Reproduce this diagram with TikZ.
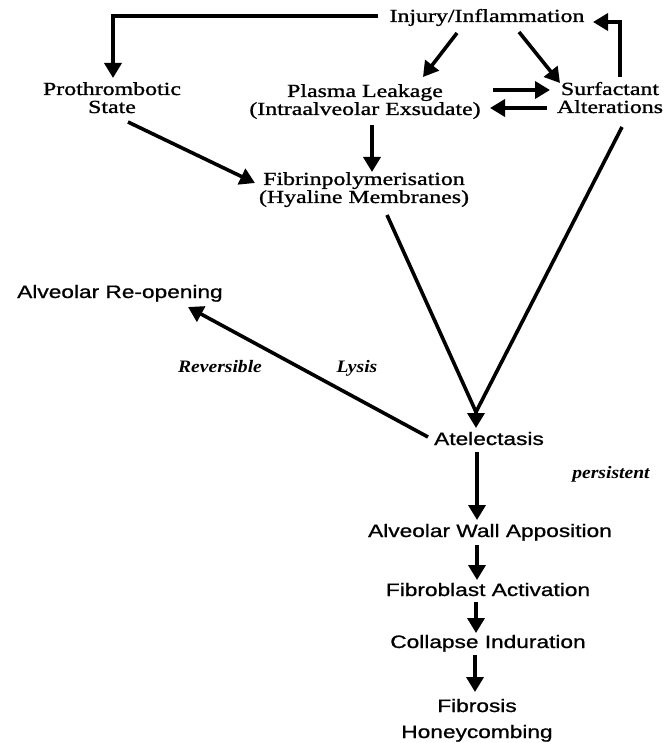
\documentclass[tikz,border=0pt]{standalone}
\usepackage{fontspec}
\usetikzlibrary{arrows.meta}
\newfontfamily\topserif[FakeStretch=1.29,FakeBold=1.2]{Liberation Serif}
\newfontfamily\botsans[FakeStretch=1.26,FakeBold=1]{Liberation Sans}
\newfontfamily\labit[FakeStretch=1.12]{Liberation Serif}
\begin{document}
\begin{tikzpicture}[x=1pt,y=-1pt,line width=3.6pt,
  arr/.style={-{Triangle[length=15pt,width=17pt]}},
  top/.style={font=\topserif\fontsize{18.5}{18}\selectfont,inner sep=0pt,anchor=base,align=center},
  bot/.style={font=\botsans\fontsize{18}{26}\selectfont,inner sep=0pt,anchor=base,align=center},
  lab/.style={font=\labit\bfseries\itshape\fontsize{17.5}{18}\selectfont,inner sep=0pt,anchor=base}]
\useasboundingbox (0,0) rectangle (671,743);
\node[top] (inj) at (487,22) {Injury/Inflammation};
\node[top] (proth) at (112,113) {Prothrombotic\\State};
\node[top] (plasma) at (365,115) {Plasma Leakage\\(Intraalveolar Exsudate)};
\node[top] (surf) at (610,113) {Surfactant\\Alterations};
\node[top] (fibrin) at (364,203) {Fibrinpolymerisation\\(Hyaline Membranes)};
\node[bot] (reopen) at (120,298) {Alveolar Re-opening};
\node[lab] (rev) at (220,372) {Reversible};
\node[lab] (lysis) at (357,372) {Lysis};
\node[bot] (atel) at (489,445) {Atelectasis};
\node[lab] (pers) at (611,478) {persistent};
\node[bot] (wall) at (490,537) {Alveolar Wall Apposition};
\node[bot] (fibro) at (488,596) {Fibroblast Activation};
\node[bot] (coll) at (488,648) {Collapse Induration};
\node[bot] (fibrosis) at (477,738) {Fibrosis\\Honeycombing};
% top connectors
\draw[arr] ([shift={(-109,-6)}]inj.base) -| ([shift={(1,-35)}]proth.base);
\draw[arr] ([shift={(-30,11)}]inj.base) -- ([shift={(58,-38)}]plasma.base);
\draw[arr] ([shift={(32,10)}]inj.base) -- ([shift={(-50,-30)}]surf.base);
\draw[arr] ([shift={(10,-36)}]surf.base) |- ([shift={(106,0)}]inj.base);
\draw[arr] ([shift={(128,-25)}]plasma.base) -- ([shift={(-60,-23)}]surf.base);
\draw[arr] ([shift={(-63,-5)}]surf.base) -- ([shift={(125,-7)}]plasma.base);
\draw[arr] ([shift={(7,10)}]plasma.base) -- ([shift={(8,-31)}]fibrin.base);
\draw[arr] ([shift={(16,9)}]proth.base) -- ([shift={(-109,-20)}]fibrin.base);
% convergence on atelectasis
\coordinate (meet) at ([shift={(-13,-33)}]atel.base);
\draw[arr] ([shift={(23,12)}]fibrin.base) -- (meet) -- ([shift={(-13,-17)}]atel.base);
\draw ([shift={(12,14)}]surf.base) -- (meet);
% reversible branch
\draw[arr] ([shift={(-61,-8)}]atel.base) -- ([shift={(68,9)}]reopen.base);
% persistent chain
\draw[arr] ([shift={(-12,7)}]atel.base) -- ([shift={(-13,-17)}]wall.base);
\draw[arr] ([shift={(-13,8)}]wall.base) -- ([shift={(-11,-16)}]fibro.base);
\draw[arr] ([shift={(-12,6)}]fibro.base) -- ([shift={(-12,-15)}]coll.base);
\draw[arr] ([shift={(-13,7)}]coll.base) -- ([shift={(-2,-46)}]fibrosis.base);
\end{tikzpicture}
\end{document}
